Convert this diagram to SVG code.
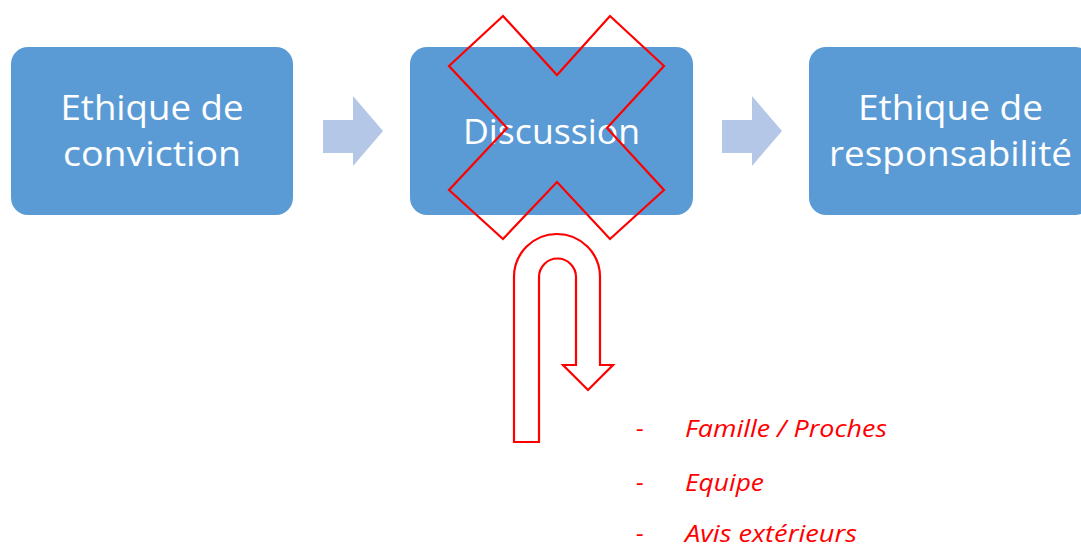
<svg xmlns="http://www.w3.org/2000/svg" width="1081" height="547" viewBox="0 0 1081 547">
<style>
.box{fill:#5B9BD5}
.t{fill:#FFFFFF;font-family:"Open Sans","Liberation Sans",sans-serif;font-size:35px;text-anchor:middle}
.arr{fill:#B4C7E7}
.red{fill:none;stroke:#FF0000;stroke-width:2.2;stroke-linejoin:miter}
.li{fill:#FF0000;font-family:"Open Sans","Liberation Sans",sans-serif;font-size:24.5px;font-style:italic}
</style>
<rect width="1081" height="547" fill="#FFFFFF"/>
<g id="connectors">
<polygon class="arr" points="323,120 353,120 353,96 383,131 353,166 353,153 323,153"/>
<polygon class="arr" points="722,120 752,120 752,96 782,131 752,166 752,153 722,153"/>
</g>
<g id="node-conviction">
<rect class="box" x="11" y="47" width="282" height="168" rx="17"/>
<text class="t" x="152" y="120" textLength="183" lengthAdjust="spacingAndGlyphs">Ethique de</text>
<text class="t" x="152" y="166" textLength="178" lengthAdjust="spacingAndGlyphs">conviction</text>
</g>
<g id="node-discussion">
<rect class="box" x="410" y="47" width="283" height="168" rx="17"/>
<text class="t" x="551.5" y="144" textLength="177" lengthAdjust="spacingAndGlyphs">Discussion</text>
</g>
<g id="node-responsabilite">
<rect class="box" x="809" y="47" width="283" height="168" rx="17"/>
<text class="t" x="950.5" y="120" textLength="185" lengthAdjust="spacingAndGlyphs">Ethique de</text>
<text class="t" x="950.5" y="166" textLength="243" lengthAdjust="spacingAndGlyphs">responsabilité</text>
</g>
<g id="cross">
<polygon class="red" points="503,16 557,75 610,16 664,66 607,128 664,190 610,239 557,182 503,239 449,190 507,128 449,66"/>
</g>
<g id="uturn">
<path class="red" d="M514,442 L514,277 A43,43 0 0 1 600,277 L600,365 L613,365 L588,390 L563,365 L576,365 L576,277 A18.5,18.5 0 0 0 539,277 L539,442 Z"/>
</g>
<g id="list">
<text class="li" x="636" y="437">-</text>
<text class="li" x="685" y="437" textLength="202" lengthAdjust="spacingAndGlyphs">Famille / Proches</text>
<text class="li" x="636" y="491">-</text>
<text class="li" x="685" y="491" textLength="79" lengthAdjust="spacingAndGlyphs">Equipe</text>
<text class="li" x="636" y="542">-</text>
<text class="li" x="685" y="542" textLength="172" lengthAdjust="spacingAndGlyphs">Avis extérieurs</text>
</g>
</svg>
